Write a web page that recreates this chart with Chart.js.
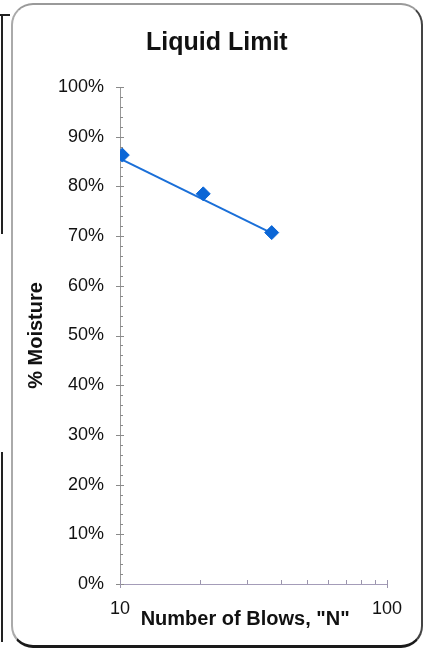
<!DOCTYPE html>
<html>
<head>
<meta charset="utf-8">
<script src="https://cdn.jsdelivr.net/npm/chart.js@4"></script>
<style>
  html, body { margin: 0; padding: 0; background: #fff; }
  #wrap { position: relative; width: 425px; height: 651px; overflow: hidden; }
  canvas { position: absolute; left: 0; top: 0; }
  #frame {
    position: absolute; left: 11px; top: 3px; width: 408px; height: 640px;
    border-style: solid; border-width: 2px 2px 3px 2px;
    border-color: #9a9a9a #444 #1a1a1a #aaa;
    border-radius: 22px; pointer-events: none;
  }
  .edge { position: absolute; background: #222; }
</style>
</head>
<body>
<div id="wrap">
  <canvas id="llChart" width="425" height="651"></canvas>
  <div id="frame"></div>
  <div class="edge" style="left:1px;top:14px;width:2px;height:220px;"></div>
  <div class="edge" style="left:0;top:14px;width:10px;height:2px;"></div>
  <div class="edge" style="left:1px;top:452px;width:2px;height:190px;"></div>
</div>
<script>
'use strict';

// ── Data ──────────────────────────────────────────────────
var blows    = [10.2, 20.5, 37.0];   // number of blows, N
var moisture = [86.3, 78.5, 70.7];   // % moisture

// trend line end points
var trendBlows    = [10, 37.0];
var trendMoisture = [85.6, 70.6];

// axis ticks
var xTickValues  = [10, 100];
var xMinorTicks  = [20, 30, 40, 50, 60, 70, 80, 90];
var yTickValues  = [0, 10, 20, 30, 40, 50, 60, 70, 80, 90, 100];

var FONT = "'Liberation Sans', Arial, sans-serif";
var BLUE = '#0b66d6';

function toPoints(xs, ys) {
  return xs.map(function(x, i){ return { x: x, y: ys[i] }; });
}

// small tick marks on both axes (major crossing, minor inside)
var tickMarks = {
  id: 'tickMarks',
  beforeDatasetsDraw: function(chart) {
    var ctx = chart.ctx, a = chart.chartArea;
    var xs = chart.scales.x, ys = chart.scales.y;
    ctx.save();
    ctx.lineWidth = 1;
    ctx.strokeStyle = '#8a8a8a';
    ctx.beginPath();
    yTickValues.forEach(function(v){
      var py = Math.round(ys.getPixelForValue(v)) + 0.5;
      ctx.moveTo(a.left - 4, py); ctx.lineTo(a.left + 4, py);
    });
    for (var v = 2; v < 100; v += 2) {
      if (v % 10 === 0) continue;
      var py = Math.round(ys.getPixelForValue(v)) + 0.5;
      ctx.moveTo(a.left, py); ctx.lineTo(a.left + 3, py);
    }
    ctx.stroke();
    ctx.strokeStyle = '#9a94ac';
    ctx.beginPath();
    xTickValues.forEach(function(v){
      var px = Math.round(xs.getPixelForValue(v)) + 0.5;
      ctx.moveTo(px, a.bottom - 4); ctx.lineTo(px, a.bottom + 4);
    });
    xMinorTicks.forEach(function(v){
      var px = Math.round(xs.getPixelForValue(v)) + 0.5;
      ctx.moveTo(px, a.bottom - 4); ctx.lineTo(px, a.bottom);
    });
    ctx.stroke();
    ctx.restore();
  }
};

new Chart(document.getElementById('llChart'), {
  type: 'scatter',
  data: {
    datasets: [
      {
        label: 'Moisture',
        data: toPoints(blows, moisture),
        pointStyle: 'rectRot',
        pointRadius: 7,
        backgroundColor: BLUE,
        borderColor: BLUE,
        borderWidth: 1,
        showLine: false
      },
      {
        label: 'Trend',
        data: toPoints(trendBlows, trendMoisture),
        showLine: true,
        borderColor: '#1a6fd8',
        borderWidth: 2,
        pointRadius: 0,
        fill: false
      }
    ]
  },
  options: {
    responsive: false,
    animation: false,
    devicePixelRatio: 1,
    layout: { padding: { top: 10, left: 12, right: 38, bottom: 10 } },
    plugins: {
      legend: { display: false },
      tooltip: { enabled: false },
      title: {
        display: true,
        // leading spaces nudge the title right, as in the original sheet
        text: '     Liquid Limit',
        color: '#111',
        font: { family: FONT, size: 25, weight: 'bold' },
        padding: { top: 18, bottom: 29 }
      }
    },
    scales: {
      x: {
        type: 'logarithmic',
        min: 10, max: 100,
        afterBuildTicks: function(s){ s.ticks = xTickValues.map(function(v){ return { value: v }; }); },
        afterFit: function(s){ s.height = 57; },
        grid: { display: false, drawTicks: false },
        border: { display: true, color: '#a49cb8', width: 1 },
        ticks: {
          color: '#111',
          padding: 14,
          maxRotation: 0,
          autoSkip: false,
          font: { family: FONT, size: 18 },
          callback: function(v){ return String(v); }
        },
        title: {
          display: true,
          text: 'Number of Blows, "N"   ',
          color: '#111',
          font: { family: FONT, size: 20, weight: 'bold' },
          padding: { top: 0, bottom: 10 }
        }
      },
      y: {
        min: 0, max: 100,
        afterFit: function(s){ s.width = 108; },
        grid: { display: false, drawTicks: false },
        border: { display: true, color: '#999', width: 1 },
        ticks: {
          stepSize: 10,
          color: '#111',
          padding: 16,
          font: { family: FONT, size: 18 },
          callback: function(v){ return v + '%'; }
        },
        title: {
          display: true,
          text: '% Moisture',
          color: '#111',
          font: { family: FONT, size: 20, weight: 'bold' },
          padding: { top: 12, bottom: 0 }
        }
      }
    }
  },
  plugins: [tickMarks]
});
</script>
</body>
</html>
